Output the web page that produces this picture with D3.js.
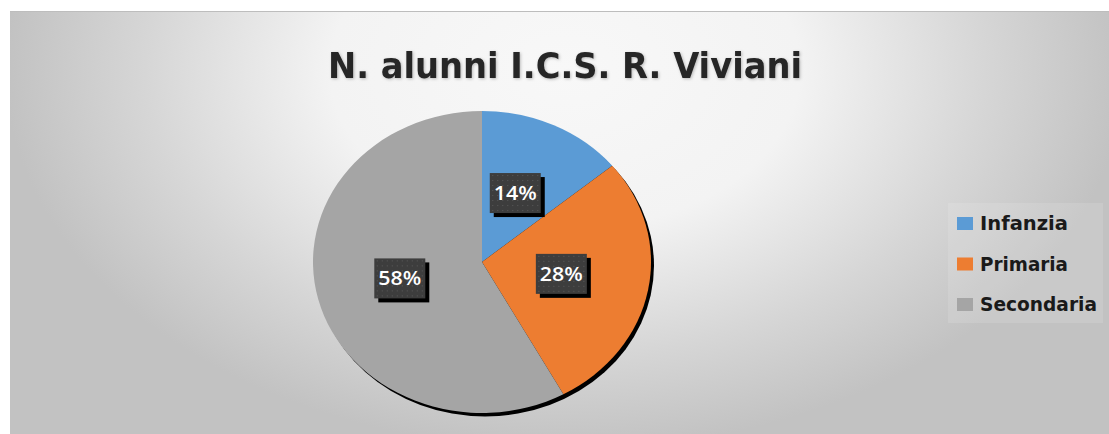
<!DOCTYPE html>
<html>
<head>
<meta charset="utf-8">
<script src="https://cdn.jsdelivr.net/npm/d3@7"></script>
<style>
  body { margin: 0; background: #fff; }
  svg { display: block; }
</style>
</head>
<body>
<div id="chart"></div>
<script>
// data
var categories = ["Infanzia", "Primaria", "Secondaria"];
var values = [14, 28, 58];
var colors = ["#5b9bd5", "#ed7d31", "#a5a5a5"];
var title = "N. alunni I.C.S. R. Viviani";

var W = 1109, H = 434;

var svg = d3.select("#chart")
  .append("svg")
    .attr("width", W)
    .attr("height", H);

var defs = svg.append("defs");

// background radial gradient (white at top centre, grey to the edges)
var grad = defs.append("radialGradient")
  .attr("id", "bg")
  .attr("gradientUnits", "userSpaceOnUse")
  .attr("cx", 0).attr("cy", 0).attr("r", 1)
  .attr("gradientTransform", "translate(565,70) scale(560,380)");
grad.append("stop").attr("offset", "0").attr("stop-color", "#f8f8f8");
grad.append("stop").attr("offset", "0.42").attr("stop-color", "#f3f3f3");
grad.append("stop").attr("offset", "0.75").attr("stop-color", "#d6d6d6");
grad.append("stop").attr("offset", "1").attr("stop-color", "#c2c2c2");

// dotted fill for the label boxes
var pat = defs.append("pattern")
  .attr("id", "dots")
  .attr("width", 5).attr("height", 5)
  .attr("patternUnits", "userSpaceOnUse");
pat.append("rect").attr("width", 5).attr("height", 5).attr("fill", "#3d3d3d");
pat.append("rect").attr("x", 2).attr("y", 2).attr("width", 1).attr("height", 1).attr("fill", "#5a5a5a");

var soft = defs.append("filter").attr("id", "soft");
soft.append("feGaussianBlur").attr("stdDeviation", 0.6);

var glow = defs.append("filter").attr("id", "glow")
  .attr("x", "-10%").attr("y", "-30%").attr("width", "120%").attr("height", "160%");
glow.append("feDropShadow")
  .attr("dx", 1).attr("dy", 1).attr("stdDeviation", 1.5)
  .attr("flood-color", "#000").attr("flood-opacity", 0.25);

// chart area
svg.append("rect")
  .attr("x", 10).attr("y", 11)
  .attr("width", W - 10).attr("height", H - 11)
  .attr("fill", "url(#bg)");
svg.append("line")
  .attr("x1", 10).attr("x2", W)
  .attr("y1", 11.5).attr("y2", 11.5)
  .attr("stroke", "#bdbdbd");

// title
svg.append("text")
  .attr("x", 565)
  .attr("y", 78)
  .attr("text-anchor", "middle")
  .attr("font-family", "'DejaVu Sans', sans-serif")
  .attr("font-weight", "bold")
  .attr("font-size", 36)
  .attr("fill", "#262626")
  .attr("textLength", 474)
  .attr("lengthAdjust", "spacingAndGlyphs")
  .attr("filter", "url(#glow)")
  .text(title);

// pie (drawn as a slightly stretched ellipse, like the picture)
var cx = 482, cy = 262, ry = 151, rx = 169;
var sx = rx / ry;

var pie = d3.pie().sort(null).value(function(d) { return d; });
var arcs = pie(values);
var arc = d3.arc().innerRadius(0).outerRadius(ry);
var labelArc = d3.arc().innerRadius(0).outerRadius(ry * 0.98);

var pg = svg.append("g")
  .attr("transform", "translate(" + cx + "," + cy + ") scale(" + sx + ",1)");

// black offset shadow
pg.append("circle")
  .attr("cx", 3 / sx).attr("cy", 3.5)
  .attr("r", ry)
  .attr("fill", "#000")
  .attr("filter", "url(#soft)");

pg.selectAll(".slice")
  .data(arcs)
  .enter()
  .append("path")
    .attr("class", "slice")
    .attr("d", arc)
    .attr("fill", function(d, i) { return colors[i]; });

// data labels
var lab = svg.selectAll(".lab")
  .data(arcs)
  .enter()
  .append("g")
    .attr("class", "lab")
    .attr("transform", function(d) {
      var c = labelArc.centroid(d);
      return "translate(" + (cx + c[0] * sx - 2) + "," + (cy + c[1] - 2) + ")";
    });

var bw = 51, bh = 40;
lab.append("rect")
  .attr("x", -bw / 2 + 4).attr("y", -bh / 2 + 4)
  .attr("width", bw).attr("height", bh)
  .attr("fill", "#000");
lab.append("rect")
  .attr("x", -bw / 2).attr("y", -bh / 2)
  .attr("width", bw).attr("height", bh)
  .attr("fill", "url(#dots)");
lab.append("text")
  .attr("text-anchor", "middle")
  .attr("y", 7)
  .attr("font-family", "'Open Sans', sans-serif")
  .attr("font-weight", 600)
  .attr("font-size", 19)
  .attr("fill", "#fff")
  .attr("textLength", 43)
  .attr("lengthAdjust", "spacingAndGlyphs")
  .text(function(d) { return d.data + "%"; });

// legend
var legend = svg.append("g");
legend.append("rect")
  .attr("x", 948).attr("y", 203)
  .attr("width", 155).attr("height", 120)
  .attr("fill", "#fff")
  .attr("opacity", 0.12);

var legY = d3.scalePoint()
  .domain(categories)
  .range([223, 304]);
var legW = [88, 88, 117];

var item = legend.selectAll(".item")
  .data(categories)
  .enter()
  .append("g")
    .attr("class", "item")
    .attr("transform", function(d) { return "translate(957," + legY(d) + ")"; });

item.append("rect")
  .attr("x", 0).attr("y", -6)
  .attr("width", 16).attr("height", 13)
  .attr("fill", function(d, i) { return colors[i]; });
item.append("text")
  .attr("x", 23)
  .attr("y", 7)
  .attr("font-family", "'DejaVu Sans', sans-serif")
  .attr("font-weight", "bold")
  .attr("font-size", 19)
  .attr("fill", "#1a1a1a")
  .attr("textLength", function(d, i) { return legW[i]; })
  .attr("lengthAdjust", "spacingAndGlyphs")
  .text(function(d) { return d; });
</script>
</body>
</html>
